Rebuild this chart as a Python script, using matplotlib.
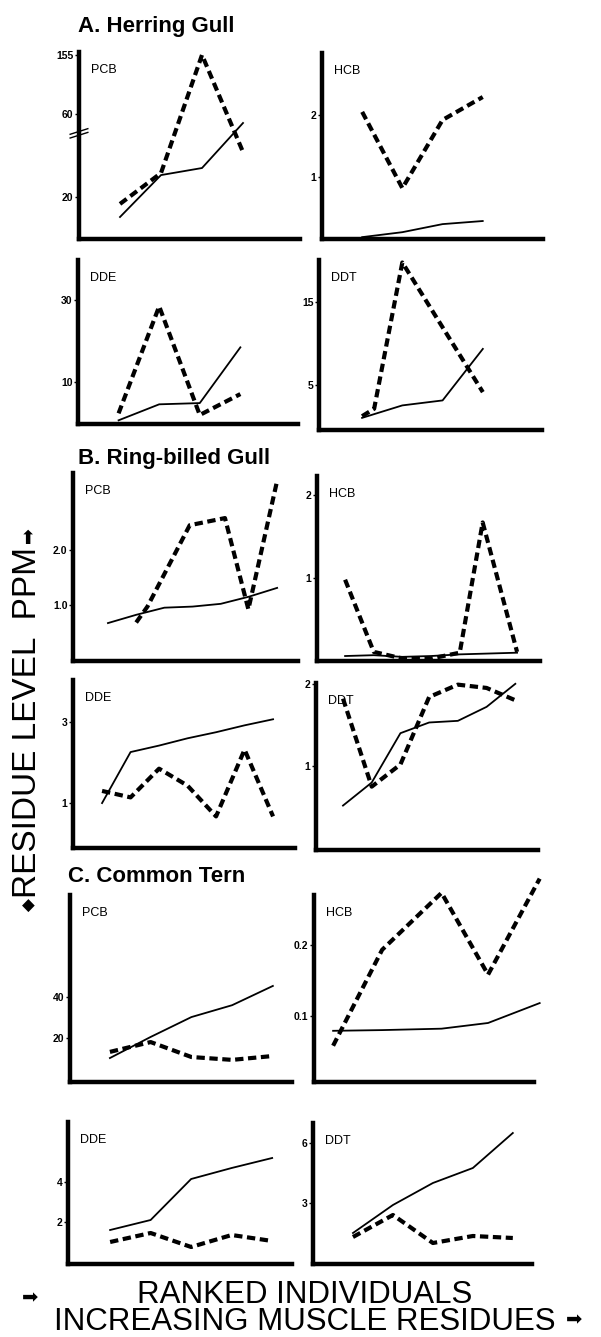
import matplotlib
matplotlib.use("Agg")
import matplotlib.pyplot as plt
import numpy as np

plt.rcParams['font.family'] = ['Liberation Sans', 'DejaVu Sans']

W, H = 601, 1337

# ---- data (ppm), solid = one tissue, dashed = other ----
# A. Herring Gull
hg_x = [1, 2, 3, 4]
hg_pcb_solid = [10.6, 30.8, 34.2, 55.9]
hg_pcb_dash = [16.9, 31.8, 155, 41.9]
hg_hcb_solid = [0.03, 0.11, 0.24, 0.29]
hg_hcb_dash = [2.05, 0.82, 1.92, 2.29]
hg_dde_solid = [0.7, 4.6, 4.9, 18.5]
hg_dde_dash = [2.4, 28.5, 2.0, 7.1]
hg_ddt_solid = [1.1, 2.6, 3.2, 9.4]
hg_ddt_dash_x = [1, 1.3, 2, 4]
hg_ddt_dash = [1.3, 2.2, 19.8, 4.2]

# B. Ring-billed Gull
rb_x = [1, 2, 3, 4, 5, 6, 7]
rb_pcb_solid = [0.67, 0.82, 0.95, 0.97, 1.02, 1.15, 1.31]
rb_pcb_dash_x = [2.0, 2.4, 3.9, 5.15, 5.98, 7.0]
rb_pcb_dash = [0.68, 0.97, 2.45, 2.58, 0.92, 3.26]
rb_hcb_solid = [0.06, 0.07, 0.05, 0.06, 0.08, 0.09, 0.10]
rb_hcb_dash_x = [1, 2, 3, 4, 5, 5.8, 7]
rb_hcb_dash = [0.98, 0.11, 0.03, 0.03, 0.10, 1.67, 0.11]
rb_dde_solid = [1.0, 2.26, 2.42, 2.6, 2.75, 2.92, 3.07]
rb_dde_dash = [1.3, 1.14, 1.85, 1.43, 0.67, 2.32, 0.67]
rb_ddt_solid = [0.52, 0.8, 1.4, 1.53, 1.55, 1.72, 2.0]
rb_ddt_dash = [1.82, 0.75, 1.02, 1.84, 1.99, 1.95, 1.8]

# C. Common Tern
ct_x = [1, 2, 3, 4, 5]
ct_pcb_solid = [10.2, 20.5, 30.2, 36, 45.4]
ct_pcb_dash = [13.2, 18, 10.7, 9.3, 11.2]
ct_hcb_x = [1, 1.95, 3.1, 4, 5]
ct_hcb_solid = [0.079, 0.08, 0.082, 0.09, 0.118]
ct_hcb_dash = [0.058, 0.193, 0.273, 0.158, 0.293]
ct_dde_solid = [1.6, 2.1, 4.15, 4.7, 5.2]
ct_dde_dash = [1.0, 1.45, 0.75, 1.35, 1.05]
ct_ddt_solid = [1.5, 2.9, 4.0, 4.75, 6.5]
ct_ddt_dash = [1.3, 2.4, 1.0, 1.35, 1.25]


# broken y axis for herring gull PCB (above 60 compressed)
def fwd(y):
    y = np.asarray(y, dtype=float)
    return np.where(y <= 60, y, 60 + (y - 60) * 0.302)


def inv(y):
    y = np.asarray(y, dtype=float)
    return np.where(y <= 60, y, 60 + (y - 60) / 0.302)


fig = plt.figure(figsize=(W / 100, H / 100), dpi=100)


def panel(box, name, xs_s, ys_s, xs_d, ys_d, xlim, ylim, ticks, labels=None):
    l, t, r, b = box
    ax = fig.add_axes([l / W, 1 - b / H, (r - l) / W, (b - t) / H])
    ax.plot(xs_s, ys_s, color="black", lw=1.3, clip_on=False)
    ax.plot(xs_d, ys_d, color="black", lw=3.0, ls=(0, (2.0, 1.1)), clip_on=False)
    ax.set_xlim(xlim)
    ax.set_ylim(ylim)
    for s in ["top", "right"]:
        ax.spines[s].set_visible(False)
    for s in ["left", "bottom"]:
        ax.spines[s].set_linewidth(3.2)
    ax.set_xticks([])
    ax.set_yticks(ticks)
    ax.set_yticklabels(labels if labels else [str(v) for v in ticks],
                       fontsize=7.5, fontweight="bold")
    ax.tick_params(axis="y", length=3, width=1, pad=1)
    ax.text(12 / (r - l), 1 - 18 / (b - t), name, transform=ax.transAxes,
            fontsize=9, va="center", ha="left")
    ax.patch.set_alpha(0)
    return ax


# A. Herring Gull
ax = panel((79, 52, 300, 239), "PCB", hg_x, hg_pcb_solid, hg_x, hg_pcb_dash,
           (0, 5.39), (0, 159.7), [20, 60, 155])
ax.set_yscale("function", functions=(fwd, inv))
ax.set_ylim(0, 159.7)
ax.set_yticks([20, 60, 155])
ax.set_yticklabels(["20", "60", "155"], fontsize=7.5, fontweight="bold")
ax.set_yticks([], minor=True)
# axis break mark
ax.plot([-0.04, 0.04], [0.54, 0.57], transform=ax.transAxes, color="black",
        lw=1, clip_on=False)
ax.plot([-0.04, 0.04], [0.56, 0.59], transform=ax.transAxes, color="black",
        lw=1, clip_on=False)

panel((322, 53, 543, 239), "HCB", hg_x, hg_hcb_solid, hg_x, hg_hcb_dash,
      (0, 5.5), (0, 3.0), [1, 2])
panel((78, 260, 298, 424), "DDE", hg_x, hg_dde_solid, hg_x, hg_dde_dash,
      (0, 5.42), (-0.2, 39.8), [10, 30])
panel((319, 260, 542, 430), "DDT", hg_x, hg_ddt_solid, hg_ddt_dash_x, hg_ddt_dash,
      (-0.07, 5.47), (-0.36, 20.1), [5, 15])

# B. Ring-billed Gull
panel((73, 473, 298, 661), "PCB", rb_x, rb_pcb_solid, rb_pcb_dash_x, rb_pcb_dash,
      (-0.24, 7.74), (-0.02, 3.4), [1.0, 2.0], ["1.0", "2.0"])
panel((317, 476, 540, 661), "HCB", rb_x, rb_hcb_solid, rb_hcb_dash_x, rb_hcb_dash,
      (0.02, 7.8), (0, 2.23), [1, 2])
panel((73, 680, 295, 848), "DDE", rb_x, rb_dde_solid, rb_x, rb_dde_dash,
      (-0.02, 7.77), (-0.11, 4.04), [1, 3])
panel((316, 683, 538, 850), "DDT", rb_x, rb_ddt_solid, rb_x, rb_ddt_dash,
      (0.06, 7.79), (-0.02, 2.01), [1, 2])

# C. Common Tern
panel((70, 895, 292, 1082), "PCB", ct_x, ct_pcb_solid, ct_x, ct_pcb_dash,
      (0.02, 5.47), (-1.5, 89.8), [20, 40])
panel((314, 895, 534, 1082), "HCB", ct_hcb_x, ct_hcb_solid, ct_hcb_x, ct_hcb_dash,
      (0.63, 4.89), (0.007, 0.27), [0.1, 0.2])
panel((68, 1122, 292, 1264), "DDE", ct_x, ct_dde_solid, ct_x, ct_dde_dash,
      (-0.04, 5.49), (-0.1, 7.0), [2, 4])
panel((313, 1123, 532, 1264), "DDT", ct_x, ct_ddt_solid, ct_x, ct_ddt_dash,
      (0.0, 5.48), (-0.05, 7.0), [3, 6])

# section titles
fig.text(78 / W, 1 - 32 / H, "A. Herring Gull", fontsize=16, fontweight="bold")
fig.text(78 / W, 1 - 464 / H, "B. Ring-billed Gull", fontsize=16, fontweight="bold")
fig.text(68 / W, 1 - 882 / H, "C. Common Tern", fontsize=16, fontweight="bold")

# axis titles
fig.text(28 / W, 1 - 722 / H, "RESIDUE LEVEL  PPM", rotation=90, fontsize=24,
         ha="center", va="center")
fig.text(28 / W, 1 - 538 / H, "\u2b06", fontsize=14, ha="center", va="center",
         family=["DejaVu Sans"])
fig.text(28 / W, 1 - 906 / H, "\u25c6", fontsize=12, ha="center", va="center",
         family=["DejaVu Sans"])
fig.text(305 / W, 1 - 1303 / H, "RANKED INDIVIDUALS", fontsize=22.5,
         ha="center", va="baseline")
fig.text(305 / W, 1 - 1330 / H, "INCREASING MUSCLE RESIDUES", fontsize=22.5,
         ha="center", va="baseline")
fig.text(30 / W, 1 - 1298 / H, "\u27a1", fontsize=14, ha="center", va="center",
         family=["DejaVu Sans"])
fig.text(574 / W, 1 - 1320 / H, "\u27a1", fontsize=14, ha="center", va="center",
         family=["DejaVu Sans"])

fig.savefig("out.png", dpi=100)
